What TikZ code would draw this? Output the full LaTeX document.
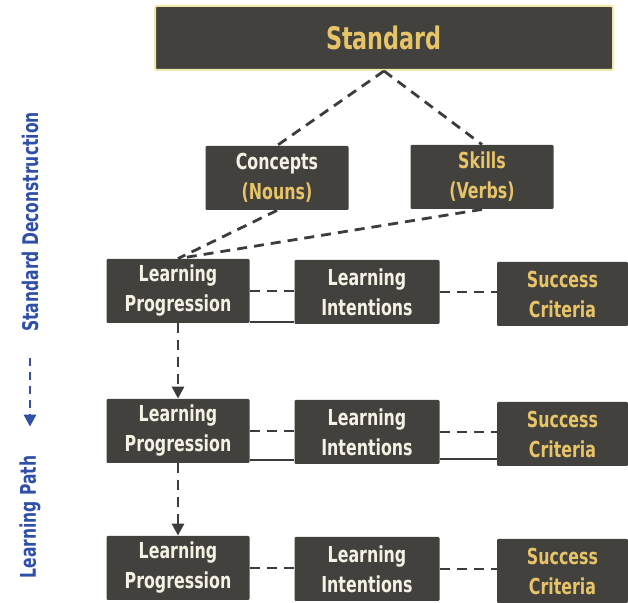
\documentclass[tikz,border=0pt]{standalone}
\usepackage{fontspec}
\setmainfont{DejaVu Sans Condensed}[FakeStretch=0.8]
\usetikzlibrary{arrows.meta}
\definecolor{boxgrey}{HTML}{42413E}
\definecolor{chalk}{HTML}{F5F1E4}
\definecolor{gold}{HTML}{E8C468}
\definecolor{rim}{HTML}{F1E9A8}
\definecolor{pathblue}{HTML}{2F4FA8}
\definecolor{linkgrey}{HTML}{3C3C3C}

\begin{document}
\begin{tikzpicture}[x=.5pt,y=-.5pt,
  box/.style={fill=boxgrey,rounded corners=.6pt,minimum width=71.5pt,minimum height=32pt,
    inner sep=0pt,align=center,text=chalk,font=\bfseries\fontsize{11}{15}\selectfont},
  link/.style={linkgrey,line width=1.4pt,dash pattern=on 5pt off 3.5pt},
  rule/.style={linkgrey,line width=1pt},
  side/.style={rotate=90,text=pathblue,font=\bfseries\fontsize{10.8}{12}\selectfont}]
 \useasboundingbox(0,0)rectangle(628,603);
 % top of the tree
 \node[box,draw=rim,line width=1pt,minimum width=229pt,text=gold,
   font=\bfseries\fontsize{15.5}{18}\selectfont](std)at(384,38){Standard};
 \node[box](concepts)at(277,178){Concepts\\\textcolor{gold}{(Nouns)}};
 \node[box,text=gold](skills)at(482,177){Skills\\(Verbs)};
 % three rows
 \foreach \r/\y in {1/291,2/431,3/568}{
   \node[box](lp\r)at(178,\y){Learning\\Progression};
   \node[box,minimum width=72.5pt](li\r)at(367,\y+1){Learning\\Intentions};
   \node[box,text=gold,minimum width=65.5pt](sc\r)at(562.5,\y+3){Success\\Criteria};
   \draw[link](lp\r.east)--(lp\r.east-|li\r.west);
   \draw[link](li\r.east)--(li\r.east-|sc\r.west);
 }
 \draw[rule]([yshift=.6pt]lp1.south east)--([yshift=.6pt]lp1.south east-|li1.west);
 \draw[rule]([yshift=1.5pt]lp2.south east)--([yshift=1.5pt]lp2.south east-|li2.west);
 \draw[rule]([yshift=2.5pt]li2.south east)--([yshift=2.5pt]li2.south east-|sc2.west);
 % connectors
 \draw[link](std.south)--(concepts.north);
 \draw[link](std.south)--(skills.north);
 \draw[link](concepts.south)--(lp1.north);
 \draw[link](skills.south)--(lp1.north);
 \draw[link,-{Triangle[length=6pt,width=6pt]}](lp1.south)--(lp2.north);
 \draw[link,-{Triangle[length=6pt,width=6pt]}](lp2.south)--(lp3.north);
 % side caption
 \node[side](deconstr)at(30,222){Standard Deconstruction};
 \node[side](lpath)at(30,517){Learning Path};
 \draw[pathblue,line width=1.4pt,dash pattern=on 4pt off 3pt,-{Triangle[length=6pt,width=6pt]},
   shorten <=9.5pt,shorten >=11pt](deconstr.west)--(lpath.east);
\end{tikzpicture}
\end{document}
